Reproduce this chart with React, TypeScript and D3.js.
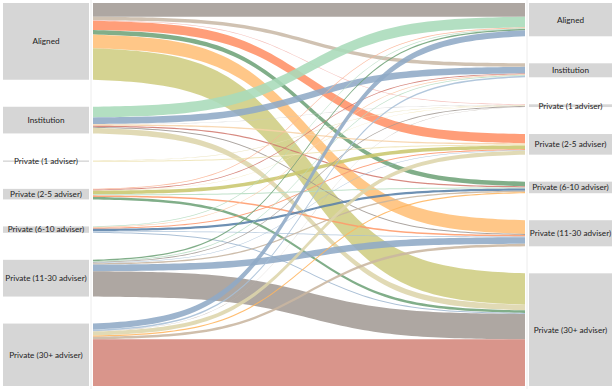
import React from "react";
import * as d3 from "d3";

const nodeNames = [
  "Aligned",
  "Institution",
  "Private (1 adviser)",
  "Private (2-5 adviser)",
  "Private (6-10 adviser)",
  "Private (11-30 adviser)",
  "Private (30+ adviser)",
];

// flows: source index, target index, value
const flowSource = [
  0, 0, 0, 0, 0, 0, 0,
  1, 1, 1, 1, 1, 1, 1,
  2, 2,
  3, 3, 3, 3, 3, 3, 3,
  4, 4, 4, 4, 4, 4,
  5, 5, 5, 5, 5, 5, 5,
  6, 6, 6, 6, 6, 6, 6,
];
const flowTarget = [
  0, 1, 2, 3, 4, 5, 6,
  0, 1, 2, 3, 4, 5, 6,
  2, 3,
  0, 1, 2, 3, 4, 5, 6,
  0, 1, 3, 4, 5, 6,
  0, 1, 2, 3, 4, 5, 6,
  0, 1, 2, 3, 4, 5, 6,
];
const flowValue = [
  13.5, 3.5, 0.6, 9, 4.5, 13.5, 31,
  10.5, 6.5, 0.3, 1.3, 1.2, 1, 5.5,
  0.4, 1,
  0.8, 0.8, 0.3, 3.5, 1, 1.5, 2.5,
  0.7, 0.7, 1, 2.2, 0.7, 1,
  1.3, 0.8, 0.8, 0.5, 1.3, 6.5, 25,
  6, 1.5, 0.3, 4, 1.2, 2.5, 46,
];
const flowColor = [
  "#a39b95", "#c9baa7", "#f2b6b0", "#ff9166", "#6fa379", "#ffbf78", "#cfcd82",
  "#a9dbba", "#8faac6", "#c8c8c8", "#f7d3a8", "#d27a70", "#9f9792", "#ddd5ab",
  "#e8dfb5", "#eee4b5",
  "#fbb495", "#d27a70", "#f1e2b0", "#c9c76e", "#b7ddc3", "#ff9a6a", "#6fa379",
  "#b7ddc3", "#fbc9a6", "#fd9870", "#5a81a9", "#a7bfd7", "#9fb7d0",
  "#6fa379", "#b7ddc3", "#a39b95", "#a7bfd7", "#c6b49f", "#8faac6", "#a39b95",
  "#8faac6", "#a7bfd7", "#bdb5ae", "#ddd5ab", "#ffb55e", "#c9b6a0", "#d4867b",
];

const W = 614;
const H = 389;
const TOP = 3;
const BOTTOM = 386;
const GAP = 27;
const LEFT_BOX = [3, 89];
const RIGHT_BOX = [529, 612];
const FLOW_X0 = 93;
const FLOW_X1 = 525;

export default function App() {
  const n = nodeNames.length;
  const flows = flowValue.map((v, i) => ({
    s: flowSource[i],
    t: flowTarget[i],
    v,
    color: flowColor[i],
  }));
  const total = d3.sum(flowValue);
  const k = (BOTTOM - TOP - (n - 1) * GAP) / total;

  const outSum = d3.range(n).map((i) => d3.sum(flows.filter((f) => f.s === i), (f) => f.v));
  const inSum = d3.range(n).map((i) => d3.sum(flows.filter((f) => f.t === i), (f) => f.v));

  const leftY: number[] = [];
  const rightY: number[] = [];
  let yl = TOP;
  let yr = TOP;
  for (let i = 0; i < n; i++) {
    leftY.push(yl);
    yl += outSum[i] * k + GAP;
    rightY.push(yr);
    yr += inSum[i] * k + GAP;
  }

  const srcOff = leftY.slice();
  const tgtOff = rightY.slice();
  const pos = flows.map(() => ({ y0: 0, y1: 0, h: 0 }));
  d3.range(n).forEach((i) => {
    flows
      .map((f, j) => ({ f, j }))
      .filter((d) => d.f.s === i)
      .sort((a, b) => a.f.t - b.f.t)
      .forEach((d) => {
        pos[d.j].y0 = srcOff[i];
        pos[d.j].h = d.f.v * k;
        srcOff[i] += d.f.v * k;
      });
    flows
      .map((f, j) => ({ f, j }))
      .filter((d) => d.f.t === i)
      .sort((a, b) => a.f.s - b.f.s)
      .forEach((d) => {
        pos[d.j].y1 = tgtOff[i];
        tgtOff[i] += d.f.v * k;
      });
  });

  const x = d3.scaleLinear().domain([0, 1]).range([FLOW_X0, FLOW_X1]);
  const sig = (t: number) => 1 / (1 + Math.exp(-10 * (t - 0.5)));
  const s0 = sig(0);
  const s1 = sig(1);
  const ease = (t: number) => (sig(t) - s0) / (s1 - s0);
  const ts = d3.range(0, 1.0001, 1 / 80);

  const areaFor = (p: { y0: number; y1: number; h: number }) =>
    d3
      .area<number>()
      .x((t) => x(t))
      .y0((t) => p.y0 + (p.y1 - p.y0) * ease(t))
      .y1((t) => p.y0 + p.h + (p.y1 - p.y0) * ease(t))
      .curve(d3.curveLinear)(ts) || "";

  const font = "Lato, 'Open Sans', Arial, sans-serif";

  return (
    <svg
      width={W}
      height={H}
      style={{ position: "absolute", left: 0, top: 0, background: "#fff" }}
    >
      <line x1={91} x2={91} y1={0} y2={H} stroke="#ececec" />
      <line x1={527} x2={527} y1={0} y2={H} stroke="#ececec" />
      {flows.map((f, i) => (
        <path key={i} d={areaFor(pos[i])} fill={f.color} fillOpacity={0.88} />
      ))}
      {nodeNames.map((name, i) => {
        const h = Math.max(outSum[i] * k, 1);
        return (
          <g key={"l" + i}>
            <rect x={LEFT_BOX[0]} y={leftY[i]} width={LEFT_BOX[1] - LEFT_BOX[0]} height={h} fill="#d6d6d6" />
            <text
              x={(LEFT_BOX[0] + LEFT_BOX[1]) / 2}
              y={leftY[i] + h / 2}
              dy="0.35em"
              textAnchor="middle"
              fontFamily={font}
              fontSize={8.2}
              fill="#222"
            >
              {name}
            </text>
          </g>
        );
      })}
      {nodeNames.map((name, i) => {
        const h = Math.max(inSum[i] * k, 1);
        return (
          <g key={"r" + i}>
            <rect x={RIGHT_BOX[0]} y={rightY[i]} width={RIGHT_BOX[1] - RIGHT_BOX[0]} height={h} fill="#d6d6d6" />
            <text
              x={(RIGHT_BOX[0] + RIGHT_BOX[1]) / 2}
              y={rightY[i] + h / 2}
              dy="0.35em"
              textAnchor="middle"
              fontFamily={font}
              fontSize={8.2}
              fill="#222"
            >
              {name}
            </text>
          </g>
        );
      })}
    </svg>
  );
}
